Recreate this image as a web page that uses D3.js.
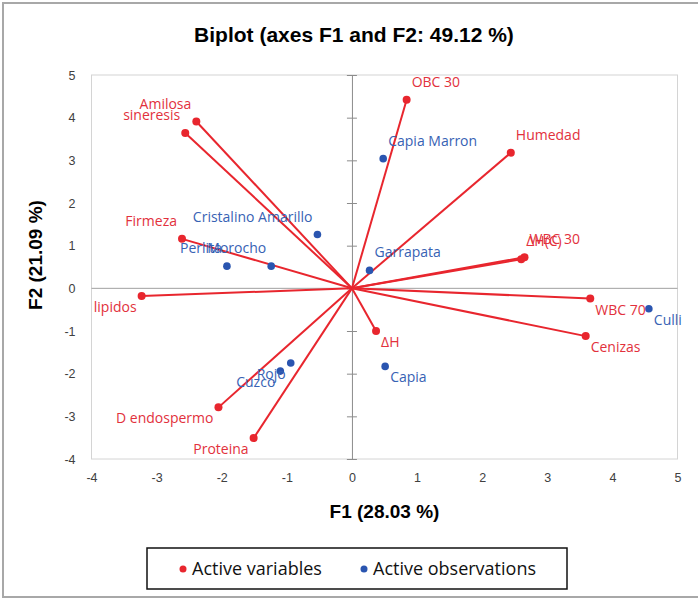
<!DOCTYPE html>
<html>
<head>
<meta charset="utf-8">
<script src="https://cdn.jsdelivr.net/npm/d3@7"></script>
<style>
  body { margin: 0; background: #fff; }
  svg { display: block; }
</style>
</head>
<body>
<div id="chart"></div>
<script>
// PCA biplot, F1 vs F2
const varNames = ["OBC 30", "Humedad", "WBC 30", "ΔH(C)", "Amilosa", "sineresis", "Firmeza",
                  "lipidos", "D  endospermo", "Proteina", "ΔH", "WBC 70", "Cenizas"];
const varF1 = [0.84, 2.44, 2.65, 2.60, -2.39, -2.56, -2.61, -3.23, -2.05, -1.51, 0.37, 3.66, 3.59];
const varF2 = [4.42, 3.18, 0.73, 0.68, 3.91, 3.64, 1.16, -0.18, -2.79, -3.51, -1.00, -0.24, -1.12];

const obsNames = ["Capia Marron", "Garrapata", "Cristalino Amarillo", "Morocho", "Perlita",
                  "Rojo", "Cuzco", "Capia", "Culli"];
const obsF1 = [0.48, 0.27, -0.53, -1.24, -1.92, -0.94, -1.10, 0.51, 4.56];
const obsF2 = [3.04, 0.42, 1.26, 0.52, 0.52, -1.75, -1.94, -1.83, -0.48];

const xTicks = [-4, -3, -2, -1, 0, 1, 2, 3, 4, 5];
const yTicks = [-4, -3, -2, -1, 0, 1, 2, 3, 4, 5];

const red = "#e8262e", redText = "#e2313c";
const blue = "#2a55b0", blueText = "#3762b4";

const W = 698, H = 600;
const plot = { left: 91.5, right: 677.5, top: 75, bottom: 459 };

const svg = d3.select("#chart").append("svg")
  .attr("width", W).attr("height", H);

// outer frame
svg.append("rect")
  .attr("x", 3).attr("y", 3).attr("width", 705).attr("height", 594)
  .attr("fill", "none").attr("stroke", "#a8a8a8").attr("stroke-width", 2);

svg.append("text")
  .attr("x", 354).attr("y", 42)
  .attr("text-anchor", "middle")
  .style("font-family", "Liberation Sans, Arial, sans-serif")
  .style("font-size", "21px").style("font-weight", "bold")
  .text("Biplot (axes F1 and F2: 49.12 %)");

const x = d3.scaleLinear().domain([-4, 5]).range([plot.left, plot.right]);
const y = d3.scaleLinear().domain([-4, 5]).range([plot.bottom, plot.top]);

// plot border
svg.append("rect")
  .attr("x", plot.left).attr("y", plot.top)
  .attr("width", plot.right - plot.left).attr("height", plot.bottom - plot.top)
  .attr("fill", "none").attr("stroke", "#d4d4d4").attr("stroke-width", 1);

// tick labels (plain hyphen for negatives, as in the original)
const tickFont = g => g.selectAll("text")
  .style("font-family", "Liberation Sans, Arial, sans-serif")
  .style("font-size", "12.5px").attr("fill", "#404040");

svg.append("g")
  .attr("transform", `translate(0,${plot.bottom})`)
  .call(d3.axisBottom(x).tickValues(xTicks).tickFormat(d => String(d)).tickSize(0).tickPadding(14))
  .call(g => g.select(".domain").remove())
  .call(tickFont);

svg.append("g")
  .attr("transform", `translate(${plot.left},0)`)
  .call(d3.axisLeft(y).tickValues(yTicks).tickFormat(d => String(d)).tickSize(0).tickPadding(16))
  .call(g => g.select(".domain").remove())
  .call(tickFont);

// zero axes
svg.append("line")
  .attr("x1", plot.left).attr("x2", plot.right)
  .attr("y1", y(0)).attr("y2", y(0))
  .attr("stroke", "#a0a0a0").attr("stroke-width", 1);

svg.append("g")
  .attr("transform", `translate(${x(0)},0)`)
  .call(d3.axisLeft(y).tickValues(yTicks).tickSize(5).tickFormat(""))
  .call(g => g.select(".domain").attr("stroke", "#8c8c8c"))
  .call(g => g.selectAll(".tick line").attr("x1", 5).attr("stroke", "#8c8c8c"));

// axis titles
svg.append("text")
  .attr("x", (plot.left + plot.right) / 2).attr("y", 518)
  .attr("text-anchor", "middle")
  .style("font-family", "Liberation Sans, Arial, sans-serif")
  .style("font-size", "19px").style("font-weight", "bold")
  .text("F1 (28.03 %)");

svg.append("text")
  .attr("transform", `translate(42,${(plot.top + plot.bottom) / 2 - 12}) rotate(-90)`)
  .attr("text-anchor", "middle")
  .style("font-family", "Liberation Sans, Arial, sans-serif")
  .style("font-size", "19px").style("font-weight", "bold")
  .text("F2 (21.09 %)");

const variables = varNames.map((n, i) => ({ name: n, f1: varF1[i], f2: varF2[i] }));
const observations = obsNames.map((n, i) => ({ name: n, f1: obsF1[i], f2: obsF2[i] }));

// vectors
svg.append("g").selectAll("line")
  .data(variables).join("line")
  .attr("x1", x(0)).attr("y1", y(0))
  .attr("x2", d => x(d.f1)).attr("y2", d => y(d.f2))
  .attr("stroke", red).attr("stroke-width", 2);

svg.append("g").selectAll("circle")
  .data(observations).join("circle")
  .attr("cx", d => x(d.f1)).attr("cy", d => y(d.f2))
  .attr("r", 3.8).attr("fill", blue);

svg.append("g").selectAll("circle")
  .data(variables).join("circle")
  .attr("cx", d => x(d.f1)).attr("cy", d => y(d.f2))
  .attr("r", 4).attr("fill", red);

// labels: above for positive F2, below for negative; outward along F1
function addLabels(data, color) {
  svg.append("g").selectAll("text")
    .data(data).join("text")
    .attr("x", d => x(d.f1) + (d.f1 >= 0 ? 5 : -5))
    .attr("y", d => y(d.f2) + (d.f2 >= 0 ? -13 : 16))
    .attr("text-anchor", d => d.f1 >= 0 ? "start" : "end")
    .style("font-family", "Open Sans, sans-serif")
    .style("font-size", "14px")
    .attr("fill", color)
    .text(d => d.name);
}
addLabels(variables, redText);
addLabels(observations, blueText);

// legend
const legend = svg.append("g");
legend.append("rect")
  .attr("x", 147).attr("y", 548).attr("width", 420).attr("height", 41)
  .attr("fill", "#fff").attr("stroke", "#111").attr("stroke-width", 1.5);
const items = [["Active variables", red, 183], ["Active observations", blue, 364]];
items.forEach(([label, c, lx]) => {
  legend.append("circle").attr("cx", lx).attr("cy", 569).attr("r", 3.5).attr("fill", c);
  legend.append("text")
    .attr("x", lx + 9).attr("y", 575)
    .style("font-family", "Open Sans, sans-serif")
    .style("font-size", "18px").attr("fill", "#111")
    .text(label);
});
</script>
</body>
</html>
